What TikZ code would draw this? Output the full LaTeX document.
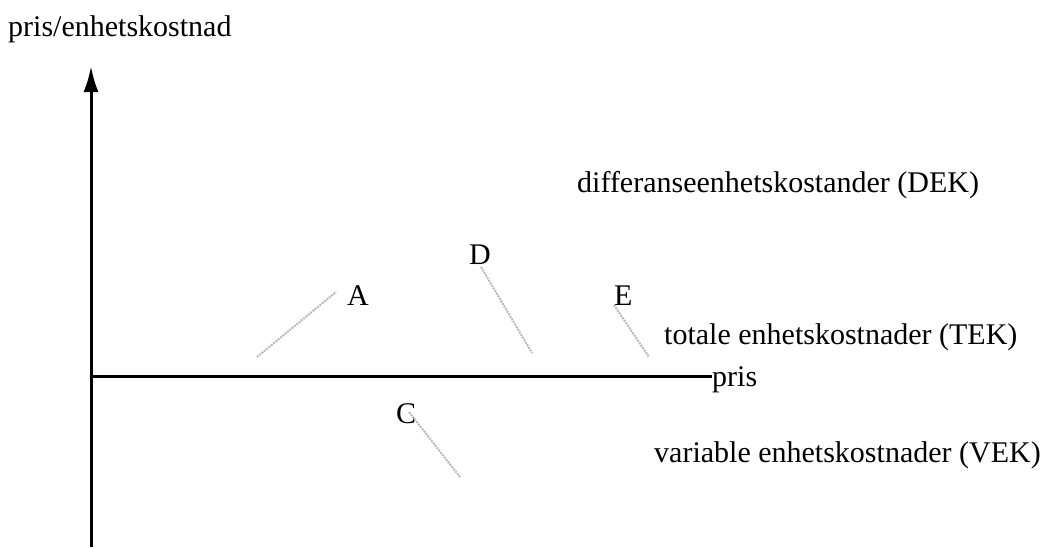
\documentclass[tikz,border=0pt]{standalone}
\usepackage{fontspec}
\setmainfont{Liberation Serif}
\usetikzlibrary{arrows.meta}
\begin{document}
\begin{tikzpicture}[x=1pt,y=-1pt,
  lbl/.style={anchor=base west,inner sep=0pt,font=\fontsize{30}{34}\selectfont},
  axisline/.style={line width=3pt,black},
  curve/.style={line width=2pt,gray!55,densely dotted}]
\useasboundingbox (0,0) rectangle (1040,547);
\fill[white] (0,0) rectangle (1040,547);
% axes
\coordinate (O) at (91,376);
\coordinate (ytop) at (91,66);
\coordinate (ybot) at (91,547);
\node[lbl] (xl) at (712,386) {pris};
\draw[axisline] (ybot) -- (O);
\draw[axisline,-{Latex[length=26pt,width=15pt]}] (O) -- (ytop);
\draw[axisline] (O) -- (O -| xl.west);
% labels
\node[lbl] (yl) at (8,36) {pris/enhetskostnad};
\node[lbl] (dek) at (577,192) {differanseenhetskostander (DEK)};
\node[lbl] (tek) at (664,344) {totale enhetskostnader (TEK)};
\node[lbl] (vek) at (654,462) {variable enhetskostnader (VEK)};
\node[lbl] (A) at (347,305) {A};
\node[lbl] (D) at (469,264) {D};
\node[lbl] (E) at (614,305) {E};
\node[lbl] (C) at (396,423) {C};
% curve segments
\coordinate (a1) at (257,357); \coordinate (a2) at (336,292);
\coordinate (d1) at (481,267); \coordinate (d2) at (532,353);
\coordinate (e1) at (614,305); \coordinate (e2) at (649,357);
\coordinate (c1) at (409,412); \coordinate (c2) at (460,477);
\draw[curve] (a1) -- (a2);
\draw[curve] (d1) -- (d2);
\draw[curve] (e1) -- (e2);
\draw[curve] (c1) -- (c2);
\end{tikzpicture}
\end{document}
